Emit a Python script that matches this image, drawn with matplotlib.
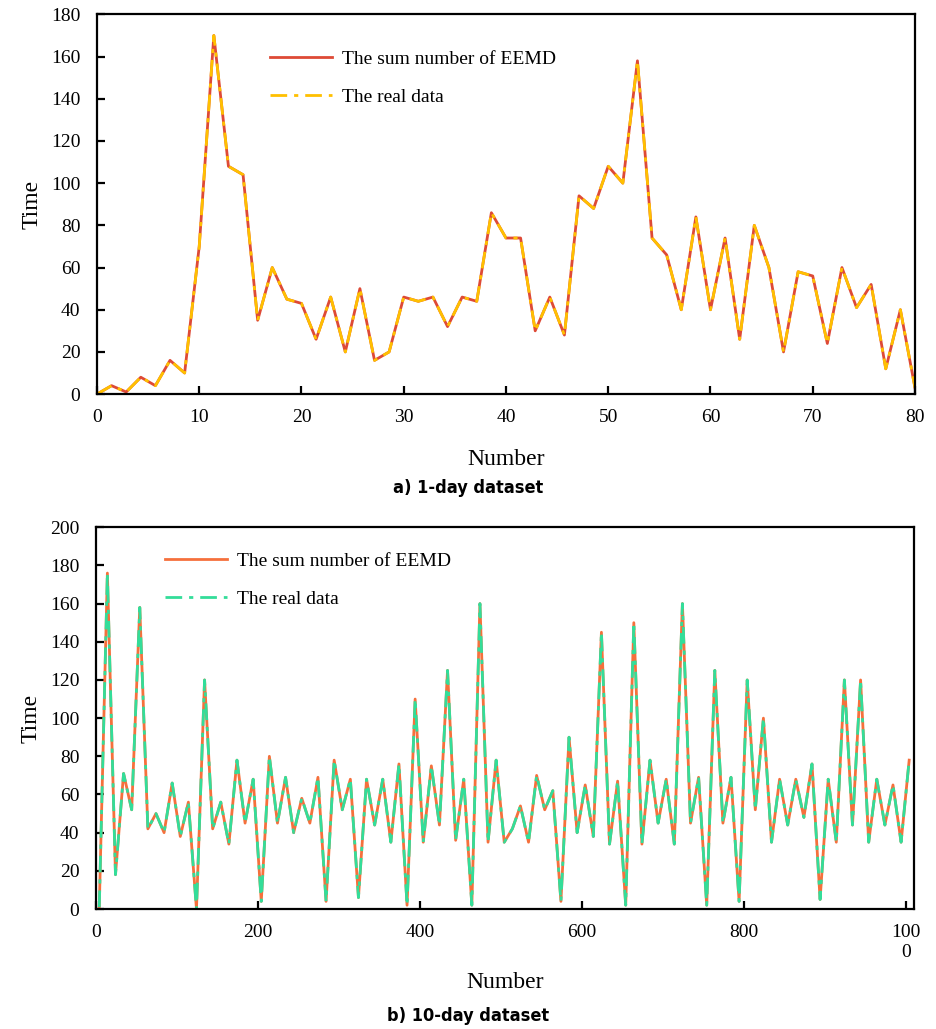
import numpy as np
import matplotlib
matplotlib.use("Agg")
import matplotlib.pyplot as plt

plt.rcParams['font.family'] = ['Liberation Serif', 'DejaVu Serif']

# a) 1-day dataset, 57 samples over 0..80
day1_values = [0, 4, 1, 8, 4, 16, 10, 70, 170, 108, 104, 35, 60, 45, 43, 26,
               46, 20, 50, 16, 20, 46, 44, 46, 32, 46, 44, 86, 74, 74, 30, 46,
               28, 94, 88, 108, 100, 158, 74, 66, 40, 84, 40, 74, 26, 80, 60,
               20, 58, 56, 24, 60, 41, 52, 12, 40, 3]
day1_x = np.linspace(0, 80, len(day1_values))

# b) 10-day dataset, 101 samples
day10_values = [1, 176, 18, 71, 52, 158, 42, 50, 40, 66, 38, 56, 0, 120, 42,
                56, 34, 78, 45, 68, 4, 80, 45, 69, 40, 58, 45, 69, 4, 78, 52,
                68, 6, 68, 44, 68, 35, 76, 2, 110, 35, 75, 44, 125, 36, 68, 2,
                160, 35, 78, 35, 42, 54, 35, 70, 52, 62, 4, 90, 40, 65, 38, 145,
                34, 67, 2, 150, 34, 78, 45, 68, 34, 160, 45, 69, 2, 125, 45, 69,
                4, 120, 52, 100, 35, 68, 44, 68, 48, 76, 5, 68, 35, 120, 44, 120,
                35, 68, 44, 65, 35, 78]
day10_x = np.arange(len(day10_values)) * 10 + 4

legend_labels = ["The sum number of EEMD", "The real data"]

fig = plt.figure(figsize=(9.37, 10.29), dpi=100)
ax1 = fig.add_axes([0.1035, 0.617, 0.873, 0.369])
ax2 = fig.add_axes([0.1025, 0.1166, 0.873, 0.371])

def style(ax, xpad):
    for s in ax.spines.values():
        s.set_linewidth(1.6)
        s.set_color('black')
    ax.tick_params(axis='both', direction='in', length=6, width=1.6,
                   labelsize=14, top=False, right=False)
    ax.tick_params(axis='y', pad=12)
    ax.tick_params(axis='x', pad=11)
    ax.set_ylabel("Time", fontsize=17, labelpad=6)
    ax.set_xlabel("Number", fontsize=17, labelpad=xpad)

caption_font = dict(fontsize=13, fontweight='bold', fontstretch='condensed',
                    family=['DejaVu Sans'])

# top chart
ax1.plot(day1_x, day1_values, color='#DE4A36', lw=2.0, label=legend_labels[0])
ax1.plot(day1_x, day1_values, color='#FFC000', lw=2.0,
         linestyle=(0, (6, 2.5, 1.5, 2.5)), label=legend_labels[1])
ax1.set_xlim(0, 80)
ax1.set_ylim(0, 180)
ax1.set_xticks(np.arange(0, 81, 10))
ax1.set_yticks(np.arange(0, 181, 20))
style(ax1, 16)
ax1.legend(loc='upper left', bbox_to_anchor=(0.19, 0.952), frameon=False,
           fontsize=14, handlelength=3.2, handletextpad=0.5, labelspacing=1.05)
fig.text(0.5, 0.526, "a) 1-day dataset", ha='center', va='center', **caption_font)

# bottom chart
ax2.plot(day10_x, day10_values, color='#F5703C', lw=2.0, label=legend_labels[0])
ax2.plot(day10_x, day10_values, color='#33DD99', lw=2.0,
         linestyle=(0, (6, 2.5, 1.5, 2.5)), label=legend_labels[1])
ax2.set_xlim(0, 1010)
ax2.set_ylim(0, 200)
ax2.set_xticks(np.arange(0, 1001, 200))
ax2.set_xticklabels(['0', '200', '400', '600', '800', '100\n0'])
ax2.set_yticks(np.arange(0, 201, 20))
style(ax2, 8)
ax2.legend(loc='upper left', bbox_to_anchor=(0.063, 0.98), frameon=False,
           fontsize=14, handlelength=3.2, handletextpad=0.5, labelspacing=1.05)
fig.text(0.5, 0.013, "b) 10-day dataset", ha='center', va='center', **caption_font)

fig.savefig("out.png", dpi=100)
